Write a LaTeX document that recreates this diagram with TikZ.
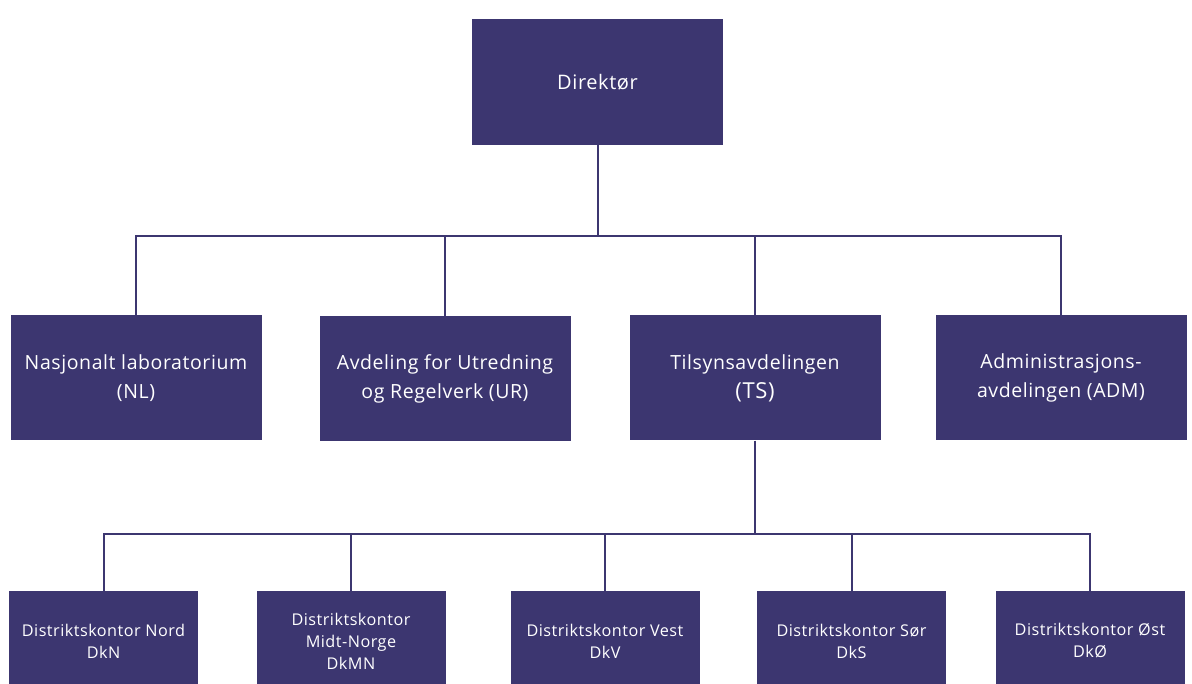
\documentclass[tikz,border=0pt]{standalone}
\usepackage{fontspec}
\setmainfont{Open Sans}[LetterSpace=3]
\definecolor{navy}{RGB}{60,54,112}
\begin{document}
\begin{tikzpicture}[x=1pt,y=-1pt,
  unit/.style={fill=navy,draw=none,inner sep=0pt,text=white,align=center},
  midunit/.style={unit,minimum width=251pt,minimum height=125pt,font=\fontsize{19.5}{29}\selectfont},
  lowunit/.style={unit,minimum width=189pt,minimum height=100pt,font=\fontsize{16.2}{22}\selectfont},
  link/.style={draw=navy,line width=2pt}]
\useasboundingbox (0,0) rectangle (1192,684);
\fill[white] (0,0) rectangle (1192,684);
\begin{scope}
\clip (0,0) rectangle (1192,684);
% top level
\node[unit,minimum width=251pt,minimum height=126pt,font=\fontsize{20}{29}\selectfont] (dir) at (597.5,82) {Direktør};
% departments
\node[midunit] (nl)  at (136,378) {Nasjonalt laboratorium\\(NL)};
\node[midunit] (ur)  at (445,379) {Avdeling for Utredning\\og Regelverk (UR)};
\node[midunit] (ts)  at (755,378) {Tilsynsavdelingen\\{\fontsize{22}{29}\selectfont(TS)}};
\node[midunit] (adm) at (1061,378) {Administrasjons-\\avdelingen (ADM)};
% district offices
\node[lowunit] (dkn)  at (103.5,641) {Distriktskontor Nord\\DkN};
\node[lowunit] (dkmn) at (351,641) {Distriktskontor\\Midt-Norge\\DkMN};
\node[lowunit] (dkv)  at (605,641) {Distriktskontor Vest\\DkV};
\node[lowunit] (dks)  at (851.5,641) {Distriktskontor Sør\\DkS};
\node[lowunit] (dkoe) at (1090,641) {Distriktskontor Øst\\DkØ};
\end{scope}
% connectors: director to departments
\coordinate (bus1) at (597.5,236);
\draw[link] (dir.south) -- (bus1);
\draw[link] (nl.north) |- (bus1) -| (adm.north);
\draw[link] (ur.north) -- (ur.north |- bus1);
\draw[link] (ts.north) -- (ts.north |- bus1);
% connectors: inspection department to district offices
\coordinate (bus2) at (755,534);
\draw[link] (ts.south) -- (bus2);
\draw[link] (dkn.north) |- (bus2) -| (dkoe.north);
\draw[link] (dkmn.north) -- (dkmn.north |- bus2);
\draw[link] (dkv.north) -- (dkv.north |- bus2);
\draw[link] (dks.north) -- (dks.north |- bus2);
\end{tikzpicture}
\end{document}
